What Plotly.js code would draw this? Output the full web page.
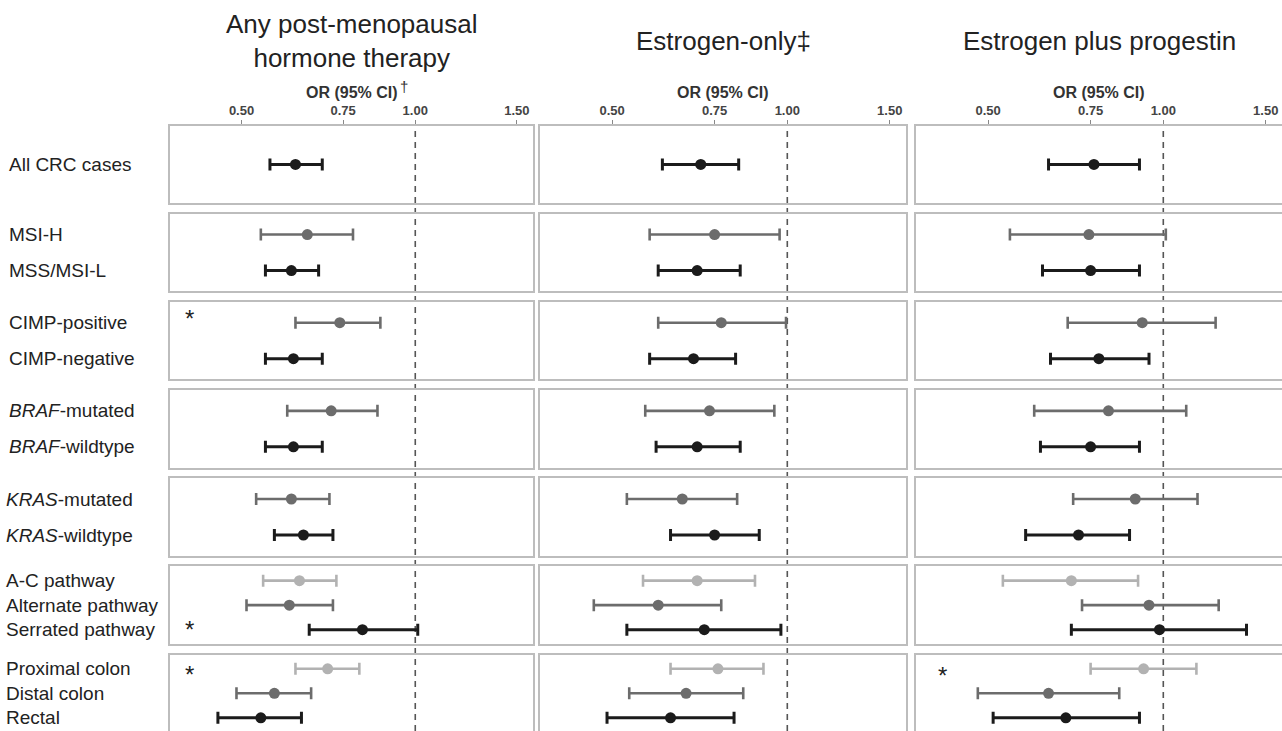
<!DOCTYPE html>
<html>
<head>
<meta charset="utf-8">
<script src="https://cdn.plot.ly/plotly-3.0.1.min.js"></script>
<style>html,body{margin:0;padding:0;background:#fff;}#chart{width:1282px;height:731px;}</style>
</head>
<body>
<div id="chart"></div>
<script>
// ---------- DATA ----------
const panelTitles = ['Any post-menopausal<br>hormone therapy', 'Estrogen-only\u2021', 'Estrogen plus progestin'];
const axisTitles = ['OR (95% CI)', 'OR (95% CI)', 'OR (95% CI)'];
const rowLabels = [
  'All CRC cases',
  'MSI-H', 'MSS/MSI-L',
  'CIMP-positive', 'CIMP-negative',
  '<i>BRAF</i>-mutated', '<i>BRAF</i>-wildtype',
  '<i>KRAS</i>-mutated', '<i>KRAS</i>-wildtype',
  'A-C pathway', 'Alternate pathway', 'Serrated pathway',
  'Proximal colon', 'Distal colon', 'Rectal'
];
const groupSizes = [1, 2, 2, 2, 2, 3, 3];
const tickVals = [0.5, 0.75, 1.0, 1.5];
const tickText = ['0.50', '0.75', '1.00', '1.50'];

// Any post-menopausal hormone therapy
const orAny = [0.62, 0.65, 0.61, 0.74, 0.615, 0.715, 0.615, 0.61, 0.64, 0.63, 0.605, 0.81, 0.705, 0.57, 0.54];
const loAny = [0.56, 0.54, 0.55, 0.62, 0.55, 0.60, 0.55, 0.53, 0.57, 0.545, 0.51, 0.655, 0.62, 0.49, 0.455];
const hiAny = [0.69, 0.78, 0.68, 0.87, 0.69, 0.86, 0.69, 0.71, 0.72, 0.73, 0.72, 1.01, 0.80, 0.66, 0.635];
// Estrogen-only
const orE = [0.71, 0.75, 0.70, 0.77, 0.69, 0.735, 0.70, 0.66, 0.75, 0.70, 0.60, 0.72, 0.76, 0.67, 0.63];
const loE = [0.61, 0.58, 0.60, 0.60, 0.58, 0.57, 0.595, 0.53, 0.63, 0.565, 0.465, 0.53, 0.63, 0.535, 0.49];
const hiE = [0.825, 0.97, 0.83, 0.995, 0.815, 0.95, 0.83, 0.82, 0.895, 0.88, 0.77, 0.975, 0.91, 0.84, 0.81];
// Estrogen plus progestin
const orEP = [0.76, 0.745, 0.75, 0.92, 0.775, 0.805, 0.75, 0.895, 0.715, 0.695, 0.945, 0.985, 0.925, 0.635, 0.68];
const loEP = [0.635, 0.545, 0.62, 0.685, 0.64, 0.60, 0.615, 0.70, 0.58, 0.53, 0.725, 0.695, 0.75, 0.48, 0.51];
const hiEP = [0.91, 1.01, 0.91, 1.23, 0.945, 1.095, 0.91, 1.145, 0.875, 0.905, 1.245, 1.39, 1.14, 0.84, 0.91];

// significance markers (panel index, row index)
const starPanel = [0, 0, 0, 2];
const starRow = [3, 11, 12, 12];

const panelOR = [orAny, orE, orEP];
const panelLo = [loAny, loE, loEP];
const panelHi = [hiAny, hiE, hiEP];

// ---------- LAYOUT ----------
const W = 1282, H = 731;
const FONT = 'Liberation Sans, Arial, Helvetica, sans-serif';
const colPx = [[170, 533], [540, 906], [916, 1282]];
const boxTop0 = 125.7, boxH = 77.4, pitch = 88.15;
const spacingFor = {1: 36, 2: 36, 3: 24.5};
const xRange = [-0.425, 0.204];
const colorsFor = {
  1: ['#1b1b1b'],
  2: ['#6c6c6c', '#1b1b1b'],
  3: ['#b2b2b2', '#6c6c6c', '#1b1b1b']
};
const thickFor = {'#1b1b1b': 3, '#6c6c6c': 2.6, '#b2b2b2': 2.6};

const layout = {
  width: W, height: H,
  margin: {l: 0, r: 0, t: 0, b: 0},
  paper_bgcolor: '#fff',
  plot_bgcolor: 'rgba(0,0,0,0)',
  showlegend: false,
  font: {family: FONT, color: '#222'},
  annotations: [],
  shapes: []
};
const traces = [];

const groupStart = [];
{ let s = 0; for (const n of groupSizes) { groupStart.push(s); s += n; } }

function axName(k) { return k === 1 ? '' : String(k); }
const yMap = {};

for (let p = 0; p < 3; p++) {
  for (let g = 0; g < groupSizes.length; g++) {
    const k = p * groupSizes.length + g + 1;
    const n = groupSizes[g];
    const top = boxTop0 + g * pitch;
    const cut = top + boxH > H;
    const bottom = Math.min(top + boxH, H);
    const cy = top + boxH / 2;
    const s = spacingFor[n];
    const ci = (n - 1) / 2;
    const v = y => ci + (y - cy) / s;
    const isTop = g === 0;
    layout['xaxis' + axName(k)] = {
      domain: [colPx[p][0] / W, colPx[p][1] / W],
      anchor: 'y' + axName(k),
      type: 'log',
      range: xRange,
      side: 'top',
      showline: true, mirror: !cut, linecolor: '#bdbdbd', linewidth: 2,
      showgrid: false, zeroline: false,
      tickvals: tickVals, ticktext: tickText,
      showticklabels: isTop,
      ticks: isTop ? 'outside' : '',
      ticklen: 4, tickwidth: 1, tickcolor: '#888',
      tickfont: {family: FONT, size: 13, color: '#444', weight: 'bold'},
      fixedrange: true
    };
    layout['yaxis' + axName(k)] = {
      domain: [1 - bottom / H, 1 - top / H],
      anchor: 'x' + axName(k),
      range: [v(bottom), v(top)],
      showline: true, mirror: true, linecolor: '#bdbdbd', linewidth: 2,
      showgrid: false, zeroline: false, showticklabels: false, ticks: '',
      fixedrange: true
    };
    for (let i = 0; i < n; i++) {
      const r = groupStart[g] + i;
      const col = colorsFor[n][i];
      const o = panelOR[p][r];
      traces.push({
        type: 'scatter', mode: 'markers',
        x: [o], y: [i],
        xaxis: 'x' + axName(k), yaxis: 'y' + axName(k),
        marker: {color: col, size: 11},
        error_x: {
          type: 'data', symmetric: false,
          array: [panelHi[p][r] - o], arrayminus: [o - panelLo[p][r]],
          color: col, thickness: thickFor[col], width: 6
        },
        hoverinfo: 'skip'
      });
      if (p === 0) {
        yMap[r] = {k: k, i: i};
        layout.annotations.push({
          xref: 'paper', yref: 'y' + axName(k),
          x: (g < 4 ? 7 : 4) / W, y: i,
          xanchor: 'left', yanchor: 'middle',
          text: rowLabels[r], showarrow: false,
          font: {family: FONT, size: 19, color: '#222'}
        });
      }
    }
  }
  const k1 = p * groupSizes.length + 1;
  layout.shapes.push({
    type: 'line', xref: 'x' + axName(k1), yref: 'paper',
    x0: 1, x1: 1, y0: 0, y1: 1 - boxTop0 / H,
    line: {color: '#555', width: 1.6, dash: '6px,5px'},
    layer: 'below'
  });
  const cx = (colPx[p][0] + colPx[p][1]) / 2 / W;
  layout.annotations.push({
    xref: 'paper', yref: 'paper', x: cx, y: 1 - 41 / H,
    xanchor: 'center', yanchor: 'middle',
    text: panelTitles[p], showarrow: false,
    font: {family: FONT, size: 26, color: '#222'}
  });
  layout.annotations.push({
    xref: 'paper', yref: 'paper', x: cx, y: 1 - 92 / H,
    xanchor: 'center', yanchor: 'middle',
    text: axisTitles[p], showarrow: false,
    font: {family: FONT, size: 16, color: '#333', weight: 'bold'}
  });
}
layout.annotations.push({
  xref: 'paper', yref: 'paper', x: 398 / W, y: 1 - 86 / H,
  xanchor: 'left', yanchor: 'middle',
  text: '\u2020', showarrow: false,
  font: {family: FONT, size: 15, color: '#333'}
});
const starDx = [19, 0, 26];
const starShift = [4, 0, -6, -7];
for (let j = 0; j < starPanel.length; j++) {
  const p = starPanel[j];
  const m = yMap[starRow[j]];
  const k = p * groupSizes.length + (m.k - 1) % groupSizes.length + 1;
  layout.annotations.push({
    xref: 'paper', yref: 'y' + axName(k),
    x: (colPx[p][0] + starDx[p]) / W, y: m.i,
    xanchor: 'center', yanchor: 'middle', yshift: starShift[j],
    text: '*', showarrow: false,
    font: {family: FONT, size: 24, color: '#222'}
  });
}

Plotly.newPlot('chart', traces, layout, {displayModeBar: false, staticPlot: true});
</script>
</body>
</html>
